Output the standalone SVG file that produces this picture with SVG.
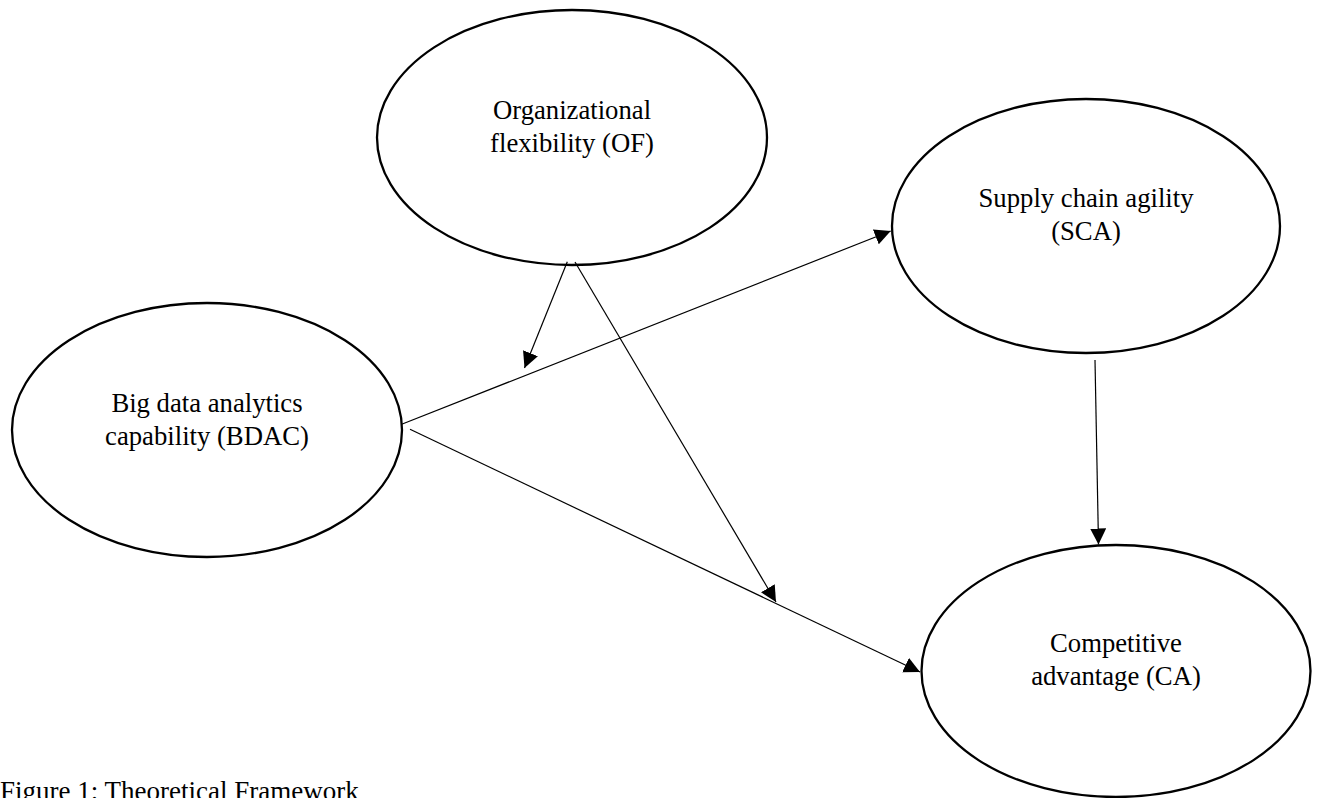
<svg xmlns="http://www.w3.org/2000/svg" width="1321" height="798" viewBox="0 0 1321 798">
<style>
.node ellipse{fill:#fff;stroke:#000;stroke-width:2.3}
.node text{font-family:"Liberation Serif","Times New Roman",serif;font-size:26.7px;fill:#000;text-anchor:middle}
.edge{stroke:#000;stroke-width:1.2;fill:none}
.cap{font-family:"Liberation Serif","Times New Roman",serif;font-size:27px;fill:#000}
</style>
<defs>
<marker id="ah" markerUnits="userSpaceOnUse" markerWidth="16" markerHeight="16" refX="16" refY="8" orient="auto" viewBox="0 0 16 16">
<path d="M0,0 L16,8 L0,16 z" fill="#000"/>
</marker>
</defs>
<rect width="1321" height="798" fill="#fff"/>
<g id="node-OF" class="node">
<ellipse cx="572" cy="137.5" rx="195" ry="127.5"/>
<text x="572" y="118.5">Organizational</text>
<text x="572" y="151.5">flexibility (OF)</text>
</g>
<g id="node-BDAC" class="node">
<ellipse cx="207" cy="430" rx="195" ry="127"/>
<text x="207" y="412">Big data analytics</text>
<text x="207" y="445">capability (BDAC)</text>
</g>
<g id="node-SCA" class="node">
<ellipse cx="1086" cy="226" rx="194" ry="127"/>
<text x="1086" y="207">Supply chain agility</text>
<text x="1086" y="240">(SCA)</text>
</g>
<g id="node-CA" class="node">
<ellipse cx="1116" cy="671" rx="194.5" ry="126"/>
<text x="1116" y="652">Competitive</text>
<text x="1116" y="685">advantage (CA)</text>
</g>
<g id="connectors">
<line class="edge" x1="401.7" y1="424.3" x2="890.7" y2="231" marker-end="url(#ah)"/>
<line class="edge" x1="410" y1="429.3" x2="920" y2="672" marker-end="url(#ah)"/>
<line class="edge" x1="567.3" y1="261.7" x2="524.5" y2="368" marker-end="url(#ah)"/>
<line class="edge" x1="575" y1="262" x2="776" y2="602" marker-end="url(#ah)"/>
<line class="edge" x1="1095" y1="360" x2="1098.5" y2="544.5" marker-end="url(#ah)"/>
</g>
<text class="cap" x="0" y="800">Figure 1: Theoretical Framework</text>
</svg>
